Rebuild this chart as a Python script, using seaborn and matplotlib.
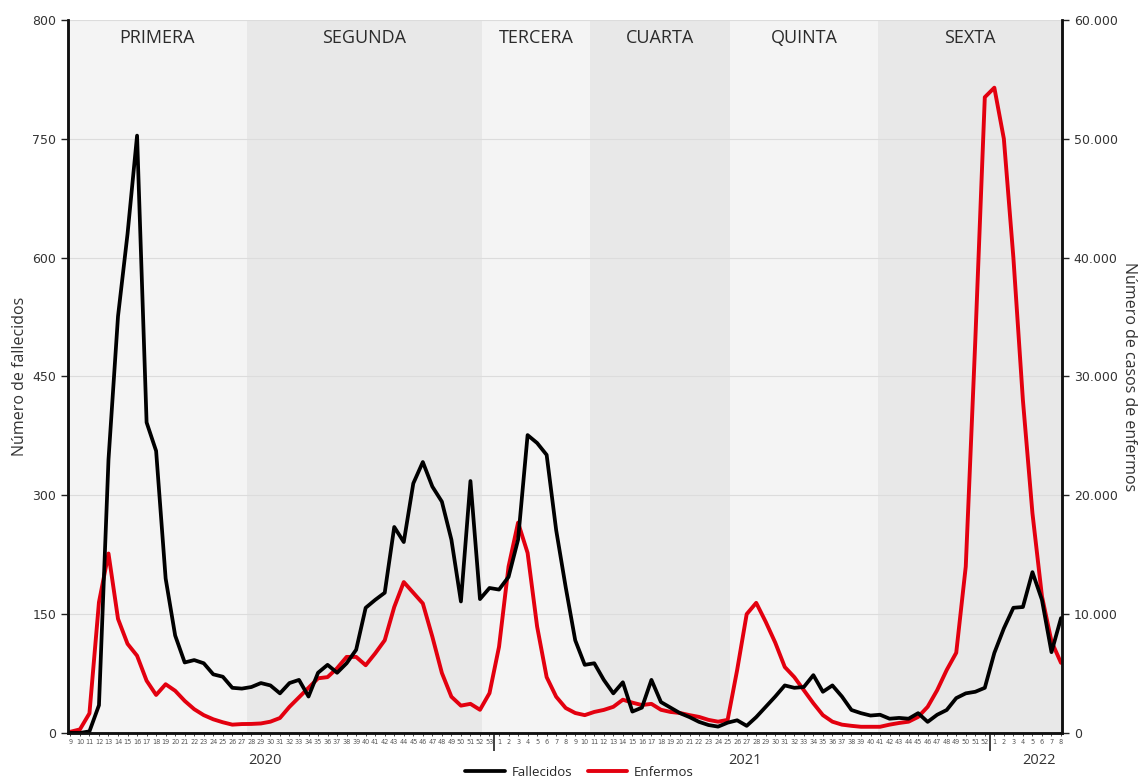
import numpy as np
import pandas as pd
import matplotlib
matplotlib.use('Agg')
import matplotlib.pyplot as plt
import seaborn as sns

# Semanas epidemiológicas: 2020 (9-53), 2021 (1-52), 2022 (1-8)
semanas_2020 = list(range(9, 54))
semanas_2021 = list(range(1, 53))
semanas_2022 = list(range(1, 9))
semanas = semanas_2020 + semanas_2021 + semanas_2022

fallecidos = [0, 0, 2, 35, 345, 526, 630, 754, 392, 356,
              195, 123, 89, 92, 88, 74, 71, 57, 56, 58,
              63, 60, 50, 63, 67, 46, 76, 86, 76, 88,
              105, 158, 168, 177, 260, 241, 315, 342, 311, 292,
              244, 166, 318, 169, 183, 181, 197, 244, 376, 366,
              351, 256, 184, 117, 86, 88, 67, 50, 64, 27,
              32, 67, 39, 32, 25, 20, 14, 10, 8, 13,
              16, 9, 20, 33, 46, 60, 57, 58, 73, 52,
              60, 46, 29, 25, 22, 23, 18, 19, 18, 25,
              14, 23, 29, 44, 50, 52, 57, 101, 132, 158,
              159, 203, 168, 102, 145]

enfermos = [100, 300, 1650, 11000, 15100, 9600, 7500, 6500, 4400, 3200,
            4100, 3550, 2700, 2000, 1500, 1150, 900, 700, 750, 760,
            800, 950, 1260, 2200, 3000, 3800, 4600, 4700, 5450, 6400,
            6400, 5700, 6700, 7800, 10600, 12700, 11800, 10900, 8100, 5050,
            3050, 2300, 2450, 1950, 3350, 7250, 14000, 17700, 15150, 8950,
            4700, 3050, 2100, 1680, 1500, 1770, 1940, 2200, 2800, 2550,
            2350, 2450, 1950, 1770, 1680, 1500, 1350, 1100, 950, 1100,
            5300, 10000, 10950, 9350, 7600, 5550, 4700, 3600, 2500, 1500,
            950, 700, 600, 520, 520, 520, 700, 840, 950, 1350,
            2200, 3600, 5300, 6750, 14000, 33000, 53500, 54300, 50000, 40000,
            28000, 18500, 11500, 7700, 5900]

olas = ['PRIMERA', 'SEGUNDA', 'TERCERA', 'CUARTA', 'QUINTA', 'SEXTA']
limites_olas = [-0.25, 18.5, 43.2, 54.6, 69.2, 84.8, 104.1]

etiquetas_fallecidos = ['0', '150', '300', '450', '600', '750', '800']
anios = ['2020', '2021', '2022']

df = pd.DataFrame({'semana': range(len(semanas)),
                   'fallecidos': fallecidos,
                   'enfermos': enfermos})

sns.set_style('ticks')
plt.rcParams['font.family'] = ['Open Sans', 'DejaVu Sans']

fig = plt.figure(figsize=(11.43, 7.83), dpi=100)
ax = fig.add_axes([0.0595, 0.0639, 0.8696, 0.9106])
ax2 = ax.twinx()

# ax (fallecidos) por encima, las bandas se dibujan en ax2
ax.set_zorder(2)
ax.patch.set_visible(False)
ax2.patch.set_visible(True)
ax2.patch.set_facecolor('white')

colores_banda = ['#f4f4f4', '#e8e8e8']
for k, nombre in enumerate(olas):
    x0, x1 = limites_olas[k], limites_olas[k + 1]
    ax2.axvspan(x0, x1, color=colores_banda[k % 2], zorder=0, lw=0)
    ax.text((x0 + x1) / 2, 0.975, nombre, transform=ax.get_xaxis_transform(),
            ha='center', va='center', fontsize=13, color='#2b2b2b')

ax2.set_axisbelow(True)
ax2.yaxis.grid(True, color='#dcdcdc', lw=0.8)

sns.lineplot(data=df, x='semana', y='enfermos', ax=ax2, color='#e3000f',
             linewidth=2.8, legend=False)
sns.lineplot(data=df, x='semana', y='fallecidos', ax=ax, color='black',
             linewidth=2.7, legend=False)

ax.set_xlim(-0.25, 104.1)
ax.set_ylim(0, 900)
ax.set_yticks(np.arange(0, 901, 150))
ax.set_yticklabels(etiquetas_fallecidos)
ax2.set_ylim(0, 60000)
ax2.set_yticks(np.arange(0, 60001, 10000))
ax2.set_yticklabels([f'{v:,}'.replace(',', '.') for v in range(0, 60001, 10000)])

ax.set_xticks(range(len(semanas)))
ax.set_xticklabels(semanas, fontsize=4.7, color='#555555', family='DejaVu Sans')
ax.set_xticks([44.5, 96.5], minor=True)
ax.tick_params(axis='x', which='major', length=2.5, width=0.6, pad=1.5)
ax.tick_params(axis='x', which='minor', length=13, width=1.3, color='#333333')

for a in (ax, ax2):
    a.tick_params(axis='y', length=5, width=1, color='#222222', labelsize=9,
                  labelcolor='#333333')
    for lab in a.get_yticklabels():
        lab.set_family('DejaVu Sans')
    a.spines['top'].set_visible(False)
    for s in ('left', 'right', 'bottom'):
        a.spines[s].set_linewidth(1.8)
        a.spines[s].set_color('#111111')

ax.set_xlabel('')
ax.set_ylabel('Número de fallecidos', fontsize=11.5, color='#333333', labelpad=3)
ax2.set_ylabel('Número de casos de enfermos', fontsize=11.5, color='#333333',
               rotation=270, va='bottom', labelpad=2)

for x, anio in zip([20.4, 70.8, 101.7], anios):
    ax.text(x, -0.038, anio, transform=ax.get_xaxis_transform(),
            ha='center', va='center', fontsize=10.5, color='#333333')

fig.legend([ax.lines[0], ax2.lines[0]], ['Fallecidos', 'Enfermos'],
           loc='center', bbox_to_anchor=(0.507, 0.014), ncol=2, frameon=False,
           fontsize=9.5, handlelength=3, columnspacing=1.2, handletextpad=0.5)

fig.savefig('out.png', dpi=100)
